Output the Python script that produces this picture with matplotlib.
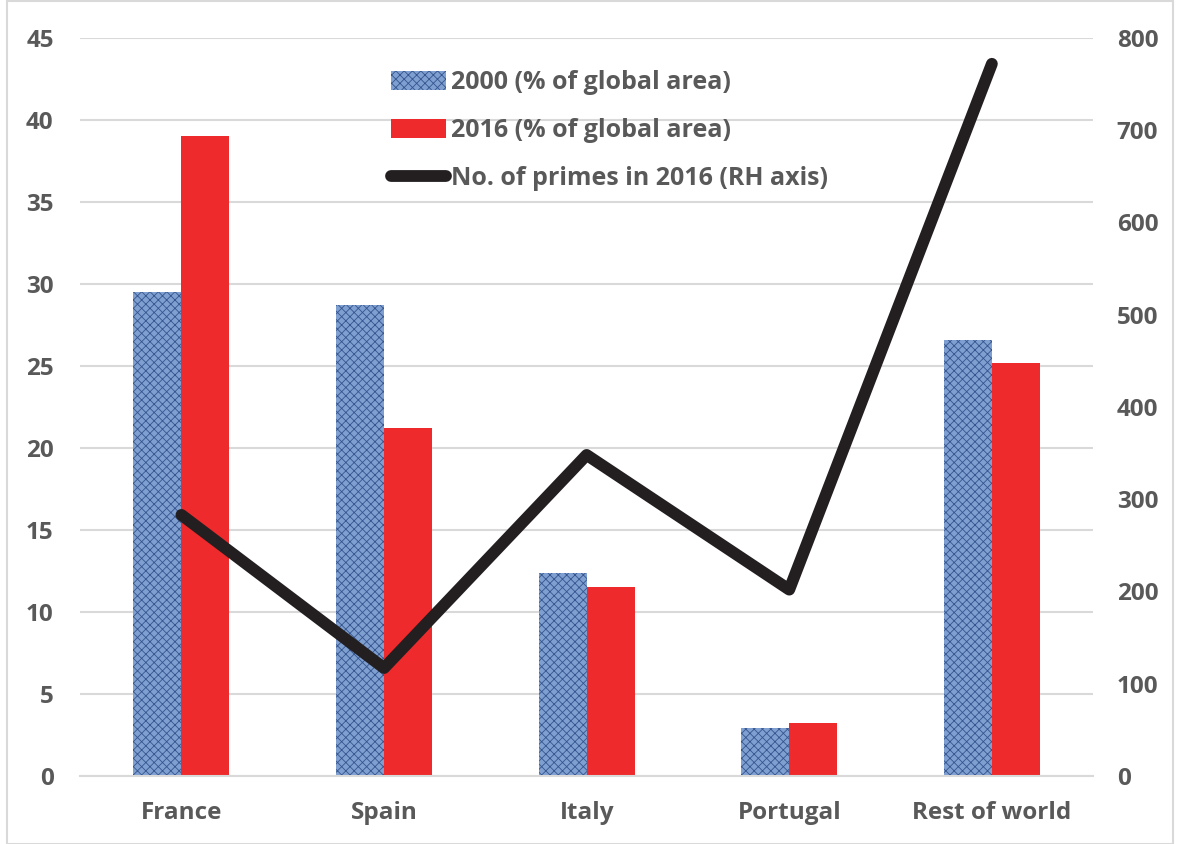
import matplotlib.pyplot as plt
import numpy as np
from matplotlib.patches import Rectangle

plt.rcParams["font.family"] = ["Open Sans", "DejaVu Sans"]
plt.rcParams["font.weight"] = "bold"
plt.rcParams["hatch.linewidth"] = 0.6

countries = ["France", "Spain", "Italy", "Portugal", "Rest of world"]
area_2000 = [29.5, 28.7, 12.4, 2.9, 26.6]
area_2016 = [39.0, 21.2, 11.5, 3.2, 25.2]
primes_2016 = [283, 117, 348, 202, 772]

text_grey = "#595959"
grid_grey = "#d9d9d9"

fig = plt.figure(figsize=(11.78, 8.44), dpi=100)
ax = fig.add_axes([0.068, 0.0806, 0.86, 0.8744])
ax2 = ax.twinx()

x = np.arange(len(countries))
w = 0.237
b1 = ax.bar(x - w / 2, area_2000, w, color="#7f9fd0", edgecolor="#34558f",
            hatch="xxxx", linewidth=0, label="2000 (% of global area)", zorder=2)
b2 = ax.bar(x + w / 2, area_2016, w, color="#ee2a2c", linewidth=0,
            label="2016 (% of global area)", zorder=2)
l1, = ax2.plot(x, primes_2016, color="#231f20", lw=8.5, solid_capstyle="round",
               label="No. of primes in 2016 (RH axis)")

ax.set_xlim(-0.5, len(countries) - 0.5)
ax.set_ylim(0, 45)
ax.set_yticks(np.arange(0, 46, 5))
ax2.set_ylim(0, 800)
ax2.set_yticks(np.arange(0, 801, 100))
ax.set_xticks(x)
ax.set_xticklabels(countries)

ax.yaxis.grid(True, color=grid_grey, lw=1.5, zorder=0)
ax.set_axisbelow(True)
for a in (ax, ax2):
    for s in a.spines.values():
        s.set_visible(False)
    a.tick_params(length=0, labelsize=17.5, labelcolor=text_grey)
ax.spines["bottom"].set_visible(True)
ax.spines["bottom"].set_color(grid_grey)
ax.spines["bottom"].set_linewidth(1.5)
ax.tick_params(axis="y", pad=19)
ax.tick_params(axis="x", pad=18)
ax2.tick_params(axis="y", pad=17)

leg = ax2.legend(handles=[b1, b2, l1], loc="upper left", bbox_to_anchor=(0.285, 0.987),
                 frameon=False, fontsize=18, handlelength=2.2, handletextpad=0.2,
                 labelspacing=0.92, handleheight=0.75)
for t in leg.get_texts():
    t.set_color(text_grey)

fig.patches.append(Rectangle((0.006, 0.0), 0.99, 0.999, transform=fig.transFigure,
                             fill=False, edgecolor=grid_grey, lw=1.5))

fig.savefig("out.png", dpi=100)
